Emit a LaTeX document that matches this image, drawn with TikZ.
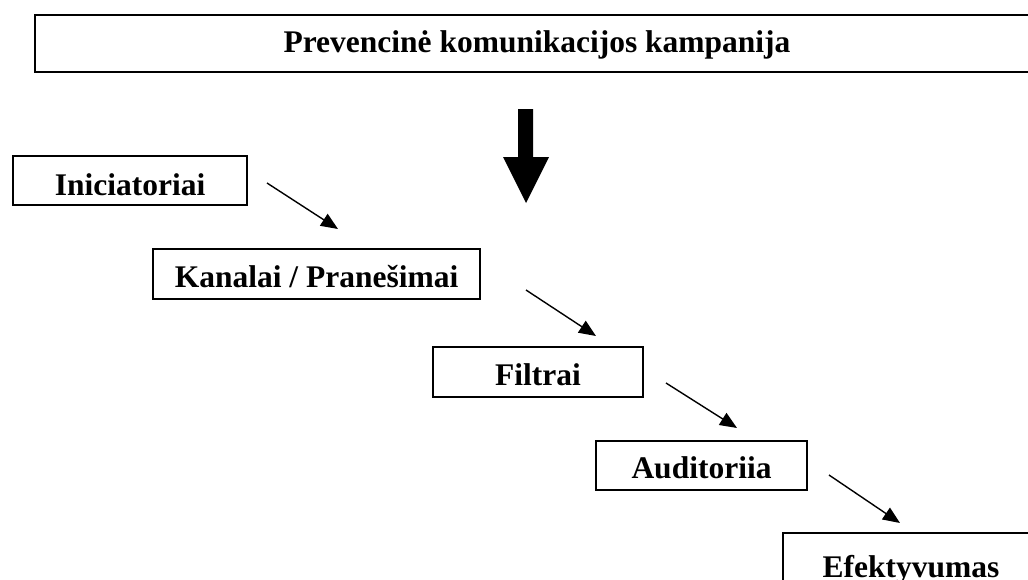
\documentclass[tikz,border=0pt]{standalone}
\usepackage{fontspec}
\setmainfont{Liberation Serif}
\usetikzlibrary{arrows.meta}
\begin{document}
\begin{tikzpicture}[x=1pt,y=-1pt,
  box/.style={draw, line width=1.4pt, inner sep=0pt, text depth=0pt,
    font=\bfseries\fontsize{31.5}{37}\selectfont},
  link/.style={line width=1.4pt, -{Triangle[length=17pt,width=14pt]}},
]
\useasboundingbox (0,0) rectangle (1028,579);
\clip (0,0) rectangle (1028,579);

\node[box, line width=2pt, minimum width=1004pt, minimum height=57pt, text height=17pt]
  (campaign) at (537,43.5) {Prevencinė komunikacijos kampanija};

\fill (518,109) -- (533,109) -- (533,157) -- (549,157) -- (526,203)
  -- (503,157) -- (518,157) -- cycle;

\node[box, minimum width=234pt, minimum height=49pt, text height=29pt]
  (init) at (130,180.5) {Iniciatoriai};
\node[box, minimum width=327pt, minimum height=50pt, text height=26pt]
  (kanal) at (316.5,274) {Kanalai / Pranešimai};
\node[box, minimum width=210pt, minimum height=50pt, text height=26pt]
  (filt) at (538,372) {Filtrai};
\node[box, minimum width=211pt, minimum height=49pt, text height=25pt]
  (aud) at (701.5,465.5) {Auditoriia};
\node[box, minimum width=256pt, minimum height=57pt, text height=31pt]
  (efek) at (911,561.5) {Efektyvumas};

\coordinate (a1s) at (267,183); \coordinate (a1e) at (338,229);
\coordinate (a2s) at (526,290); \coordinate (a2e) at (596,336);
\coordinate (a3s) at (666,383); \coordinate (a3e) at (737,428);
\coordinate (a4s) at (829,475); \coordinate (a4e) at (900,523);

\draw[link] (a1s) -- (a1e);
\draw[link] (a2s) -- (a2e);
\draw[link] (a3s) -- (a3e);
\draw[link] (a4s) -- (a4e);
\end{tikzpicture}
\end{document}
